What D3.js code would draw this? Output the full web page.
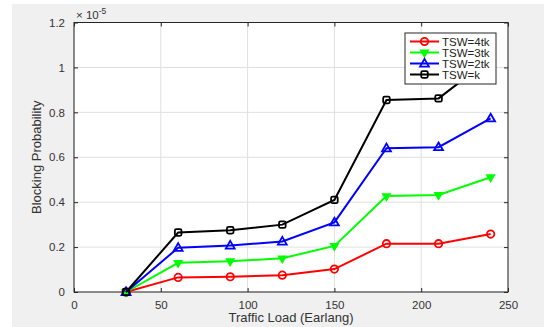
<!DOCTYPE html>
<html>
<head>
<meta charset="utf-8">
<script src="https://cdn.jsdelivr.net/npm/d3@7"></script>
<style>
  body { margin: 0; background: #fff; }
  svg { display: block; font-family: "Liberation Sans", Arial, sans-serif; }
</style>
</head>
<body>
<div id="chart"></div>
<script>
// traffic load (Erlang)
var loads = [30, 60, 90, 120, 150, 180, 210, 240];
// blocking probability, x 1e-5
var tsw4tk = [0, 0.065, 0.068, 0.075, 0.102, 0.215, 0.215, 0.258];
var tsw3tk = [0, 0.13, 0.137, 0.15, 0.205, 0.427, 0.432, 0.511];
var tsw2tk = [0, 0.197, 0.207, 0.225, 0.31, 0.64, 0.645, 0.773];
var tswk = [0, 0.265, 0.275, 0.30, 0.41, 0.855, 0.862, 1.04];
var seriesNames = ["TSW=4tk", "TSW=3tk", "TSW=2tk", "TSW=k"];
var xTicks = [0, 50, 100, 150, 200, 250];
var yTicks = [0, 0.2, 0.4, 0.6, 0.8, 1, 1.2];

var W = 544, H = 327;
var margin = {top: 22.5, right: 36, bottom: 35, left: 74};
var width = W - margin.left - margin.right,
    height = H - margin.top - margin.bottom;

var svg = d3.select("#chart").append("svg")
    .attr("width", W).attr("height", H);

// grey figure background
svg.append("rect").attr("x", 12).attr("y", 4)
    .attr("width", W - 12).attr("height", H - 4).attr("fill", "#f0f0f0");

var g = svg.append("g")
    .attr("transform", "translate(" + margin.left + "," + margin.top + ")");

var x = d3.scaleLinear().domain([0, 250]).range([0, width]);
var y = d3.scaleLinear().domain([0, 1.2]).range([height, 0]);

g.append("rect").attr("width", width).attr("height", height).attr("fill", "#fff");

// grid
g.selectAll(".vgrid").data(xTicks).enter().append("line")
    .attr("x1", function(d) { return x(d); }).attr("x2", function(d) { return x(d); })
    .attr("y1", 0).attr("y2", height)
    .attr("stroke", "#dfdfdf").attr("stroke-width", 1);
g.selectAll(".hgrid").data(yTicks).enter().append("line")
    .attr("y1", function(d) { return y(d); }).attr("y2", function(d) { return y(d); })
    .attr("x1", 0).attr("x2", width)
    .attr("stroke", "#dfdfdf").attr("stroke-width", 1);

// axes (ticks inward, box on)
var axisColor = "#262626";
function styleAxis(sel) {
  sel.select(".domain").remove();
  sel.selectAll(".tick line").attr("stroke", axisColor);
  sel.selectAll(".tick text").attr("fill", "#333").attr("font-size", "11.5px")
    .attr("font-family", "Liberation Sans, Arial, sans-serif");
}
g.append("g").attr("transform", "translate(0," + height + ")")
    .call(d3.axisBottom(x).tickValues(xTicks).tickSizeInner(-4).tickPadding(9))
    .call(styleAxis);
g.append("g")
    .call(d3.axisLeft(y).tickValues(yTicks).tickSizeInner(-4).tickPadding(9)
      .tickFormat(function(d) { return d3.format("~g")(d); }))
    .call(styleAxis);
g.append("g")
    .call(d3.axisTop(x).tickValues(xTicks).tickSizeInner(-4).tickFormat(""))
    .call(styleAxis);
g.append("g").attr("transform", "translate(" + width + ",0)")
    .call(d3.axisRight(y).tickValues(yTicks).tickSizeInner(-4).tickFormat(""))
    .call(styleAxis);
g.append("rect").attr("width", width).attr("height", height)
    .attr("fill", "none").attr("stroke", axisColor).attr("stroke-width", 1);

// exponent
var ex = svg.append("text").attr("x", margin.left + 2).attr("y", 19)
    .attr("font-size", "11.5px").attr("fill", "#333");
ex.append("tspan").text("\u00d7 10");
ex.append("tspan").attr("dy", -5).attr("font-size", "8.5px").text("-5");

// axis labels
svg.append("text").attr("x", margin.left + width / 2).attr("y", 322)
    .attr("text-anchor", "middle").attr("font-size", "13px").attr("fill", "#333")
    .text("Traffic Load (Earlang)");
svg.append("text")
    .attr("transform", "translate(41," + (margin.top + height / 2) + ") rotate(-90)")
    .attr("text-anchor", "middle").attr("font-size", "13px").attr("fill", "#333")
    .text("Blocking Probability");

var series = [
  {name: seriesNames[0], values: tsw4tk, color: "#ff0000", marker: "circle"},
  {name: seriesNames[1], values: tsw3tk, color: "#00ff00", marker: "tridown"},
  {name: seriesNames[2], values: tsw2tk, color: "#0000ff", marker: "triup"},
  {name: seriesNames[3], values: tswk, color: "#000000", marker: "square"}
];

var line = d3.line()
    .x(function(d, i) { return x(loads[i]); })
    .y(function(d) { return y(d); });

function drawMarker(sel, s, cx, cy) {
  if (s.marker === "circle") {
    sel.append("circle").attr("cx", cx).attr("cy", cy).attr("r", 3.7)
      .attr("fill", "none").attr("stroke", s.color).attr("stroke-width", 1.8);
  } else if (s.marker === "tridown") {
    sel.append("path").attr("d", d3.symbol(d3.symbolTriangle, 24)())
      .attr("transform", "translate(" + cx + "," + cy + ") rotate(180)")
      .attr("fill", s.color).attr("stroke", s.color).attr("stroke-width", 1.5);
  } else if (s.marker === "triup") {
    sel.append("path").attr("d", d3.symbol(d3.symbolTriangle, 34)())
      .attr("transform", "translate(" + cx + "," + (cy + 0.5) + ")")
      .attr("fill", "none").attr("stroke", s.color).attr("stroke-width", 1.8);
  } else {
    sel.append("rect").attr("x", cx - 3.3).attr("y", cy - 3.3)
      .attr("width", 6.6).attr("height", 6.6).attr("rx", 1.5)
      .attr("fill", "none").attr("stroke", s.color).attr("stroke-width", 1.8);
  }
}

var plot = g.append("g");
series.forEach(function(s) {
  plot.append("path").datum(s.values).attr("d", line)
    .attr("fill", "none").attr("stroke", s.color).attr("stroke-width", 2);
  var mg = plot.append("g");
  s.values.forEach(function(v, i) { drawMarker(mg, s, x(loads[i]), y(v)); });
});

// legend
var lg = svg.append("g").attr("transform", "translate(405,33)");
lg.append("rect").attr("width", 91).attr("height", 51)
    .attr("fill", "#fff").attr("stroke", axisColor).attr("stroke-width", 1);
series.forEach(function(s, i) {
  var ly = 8.5 + i * 11;
  lg.append("line").attr("x1", 5).attr("x2", 34).attr("y1", ly).attr("y2", ly)
    .attr("stroke", s.color).attr("stroke-width", 2);
  drawMarker(lg, s, 19.5, ly);
  lg.append("text").attr("x", 37).attr("y", ly + 4)
    .attr("font-size", "11.5px").attr("fill", "#222").text(s.name);
});
</script>
</body>
</html>
